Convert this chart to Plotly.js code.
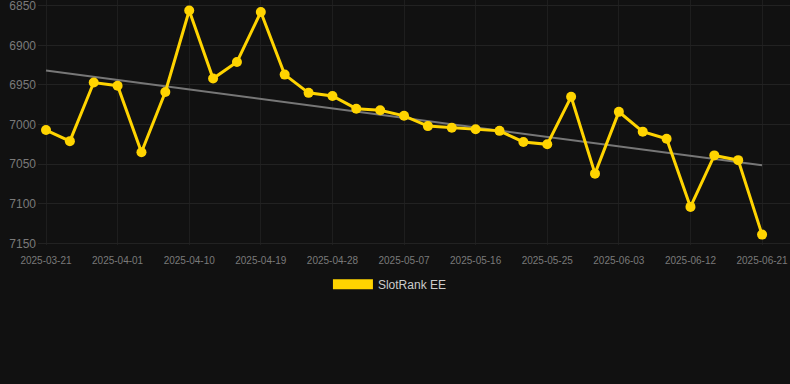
<!DOCTYPE html>
<html>
<head>
<meta charset="utf-8">
<script src="https://cdn.plot.ly/plotly-3.0.1.min.js"></script>
<style>
  html, body { margin: 0; padding: 0; background: #111111; }
  #chart { width: 790px; height: 384px; }
</style>
</head>
<body>
<div id="chart"></div>
<script>
const dates = [
  "2025-03-21", "2025-03-25", "2025-03-29", "2025-04-01", "2025-04-04", "2025-04-07",
  "2025-04-10", "2025-04-13", "2025-04-16", "2025-04-19", "2025-04-22", "2025-04-25",
  "2025-04-28", "2025-05-01", "2025-05-04", "2025-05-07", "2025-05-10", "2025-05-13",
  "2025-05-16", "2025-05-19", "2025-05-22", "2025-05-25", "2025-05-28", "2025-05-31",
  "2025-06-03", "2025-06-06", "2025-06-09", "2025-06-12", "2025-06-15", "2025-06-18",
  "2025-06-21"
];
const ranks = [
  7007, 7021, 6947, 6951, 7035, 6959,
  6856, 6942, 6921, 6858, 6937, 6960,
  6964, 6980, 6982, 6989, 7002, 7004,
  7006, 7008, 7022, 7025, 6965, 7062,
  6984, 7009, 7018, 7104, 7039, 7045,
  7139
];
const xTickLabels = [
  "2025-03-21", "2025-04-01", "2025-04-10", "2025-04-19", "2025-04-28", "2025-05-07",
  "2025-05-16", "2025-05-25", "2025-06-03", "2025-06-12", "2025-06-21"
];
const yTicks = [6850, 6900, 6950, 7000, 7050, 7100, 7150];
const seriesName = "SlotRank EE";

// least-squares trend line over the series
const n = ranks.length;
const idx = ranks.map((_, i) => i);
const mx = idx.reduce((a, b) => a + b, 0) / n;
const my = ranks.reduce((a, b) => a + b, 0) / n;
let sxy = 0, sxx = 0;
for (let i = 0; i < n; i++) { sxy += (i - mx) * (ranks[i] - my); sxx += (i - mx) * (i - mx); }
const slope = sxy / sxx;
const trend = idx.map(i => my + slope * (i - mx));

const gold = "#FFD400";
const traces = [
  {
    x: dates, y: trend, type: "scatter", mode: "lines",
    line: { color: "#777777", width: 2 },
    hoverinfo: "skip", showlegend: false
  },
  {
    x: dates, y: ranks, type: "scatter", mode: "lines+markers",
    line: { color: gold, width: 3 },
    marker: { color: gold, size: 10 },
    name: seriesName, showlegend: false
  },
  {
    x: [null], y: [null], type: "scatter", mode: "lines",
    line: { color: gold, width: 11 },
    name: seriesName, showlegend: true, hoverinfo: "skip"
  }
];

const layout = {
  width: 790, height: 384,
  paper_bgcolor: "#111111", plot_bgcolor: "#111111",
  margin: { l: 38, r: 0, t: 0, b: 139, pad: 0 },
  font: { family: "Liberation Sans, Arial, sans-serif", color: "#888888" },
  xaxis: {
    type: "category",
    range: [-0.335, 31.17],
    tickmode: "array", tickvals: xTickLabels, ticktext: xTickLabels,
    tickfont: { size: 10, color: "#7a7a7a" },
    showgrid: true, gridcolor: "#1e1e1e", gridwidth: 1,
    zeroline: false, showline: false, ticks: "",
    ticklabelstandoff: 8
  },
  yaxis: {
    range: [7152.1, 6842.8],
    tickmode: "array", tickvals: yTicks,
    tickfont: { size: 12, color: "#7a7a7a" },
    showgrid: true, gridcolor: "#222222", gridwidth: 1,
    zeroline: false, showline: false, ticks: "",
    ticklabelstandoff: 1,
    ticklabeloverflow: "allow"
  },
  showlegend: true,
  legend: {
    orientation: "h", x: 0.468, xanchor: "center", y: -0.16, yanchor: "middle",
    itemwidth: 40,
    font: { size: 12, color: "#cccccc" },
    bgcolor: "rgba(0,0,0,0)"
  }
};

Plotly.newPlot("chart", traces, layout, { displayModeBar: false, staticPlot: true });
</script>
</body>
</html>
